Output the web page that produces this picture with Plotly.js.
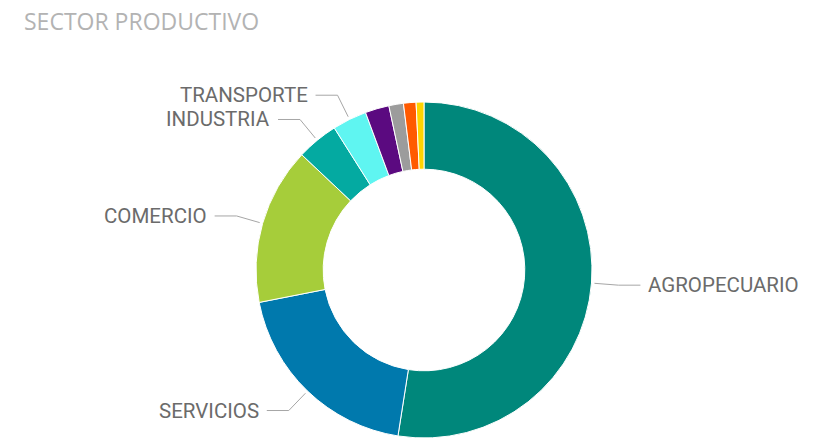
<!DOCTYPE html>
<html>
<head>
<meta charset="utf-8">
<script src="https://cdn.plot.ly/plotly-3.0.1.min.js"></script>
<style>html,body{margin:0;padding:0;background:#fff;}#chart{width:821px;height:448px;}</style>
</head>
<body>
<div id="chart"></div>
<script>
var categories = ["AGROPECUARIO","SERVICIOS","COMERCIO","INDUSTRIA","TRANSPORTE","OTRO 1","OTRO 2","OTRO 3","OTRO 4"];
var values = [52.4, 19.4, 15.1, 4.0, 3.3, 2.3, 1.4, 1.2, 0.75];
var showLabel = [true, true, true, true, true, false, false, false, false];
var colors = ["#00877b","#0079ad","#a6cd3a","#04aaa1","#5ff5f1","#5b0a80","#9c9c9c","#ff5a00","#ffd400"];

var W = 821, H = 448;
var cx = 424, cy = 270, R = 168;

var trace = {
  type: "pie",
  labels: categories,
  values: values,
  sort: false,
  direction: "clockwise",
  rotation: 0,
  hole: 0.6,
  textinfo: "none",
  hoverinfo: "label+percent",
  marker: {colors: colors, line: {color: "#ffffff", width: 1}},
  domain: {x: [(cx - R) / W, (cx + R) / W], y: [(H - cy - R) / H, (H - cy + R) / H]},
  showlegend: false
};

function px(x){ return x / W; }
function py(y){ return 1 - y / H; }

var shapes = [], annotations = [];
var total = values.reduce(function(a,b){return a+b;}, 0);
var cum = 0;
for (var i = 0; i < values.length; i++) {
  var mid = (cum + values[i] / 2) / total * 2 * Math.PI;
  cum += values[i];
  if (!showLabel[i]) continue;
  var sx = Math.sin(mid), sy = -Math.cos(mid);
  var x0 = cx + (R + 3) * sx, y0 = cy + (R + 3) * sy;
  var x1 = cx + (R + 27) * sx, y1 = cy + (R + 27) * sy;
  var right = sx > 0;
  var x2 = x1 + (right ? 22 : -22);
  shapes.push({type: "path", xref: "paper", yref: "paper",
    path: "M" + px(x0) + "," + py(y0) + " L" + px(x1) + "," + py(y1) + " L" + px(x2) + "," + py(y1),
    line: {color: "#a6a6a6", width: 1}});
  annotations.push({xref: "paper", yref: "paper", x: px(x2 + (right ? 6 : -6)), y: py(y1),
    xanchor: right ? "left" : "right", yanchor: "middle", showarrow: false,
    text: categories[i], font: {family: "Roboto, sans-serif", size: 20.5, color: "#6b6b6b"}});
}

var layout = {
  width: W, height: H,
  margin: {l: 0, r: 0, t: 0, b: 0},
  paper_bgcolor: "#ffffff",
  title: {text: "SECTOR PRODUCTIVO", x: 24 / W, xanchor: "left", y: py(22), yanchor: "middle",
    font: {family: "Open Sans, sans-serif", size: 23, color: "#b3b3b3"}},
  shapes: shapes,
  annotations: annotations
};

Plotly.newPlot("chart", [trace], layout, {displayModeBar: false, staticPlot: true});
</script>
</body>
</html>
